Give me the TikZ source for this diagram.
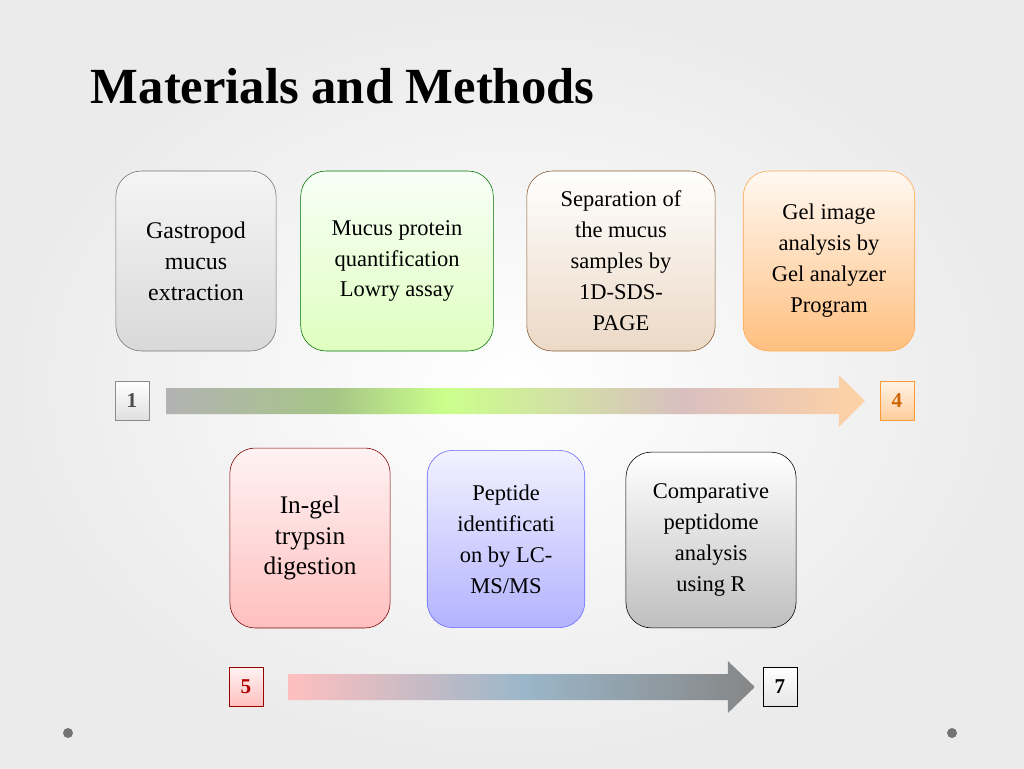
\documentclass[tikz,border=0pt]{standalone}
\usepackage{fontspec}
\setmainfont{Liberation Serif}
\usetikzlibrary{calc}
\pgfdeclarehorizontalshading{stepsone}{100bp}{
  color(0bp)=(gray!60);color(25bp)=(gray!60);color(37bp)=(green!50!yellow!35!gray!70);
  color(45bp)=(green!45!yellow!45);color(62bp)=(red!25!gray!40);color(75bp)=(orange!35);color(100bp)=(orange!35)}
\pgfdeclarehorizontalshading{stepstwo}{100bp}{
  color(0bp)=(red!25);color(25bp)=(red!25);color(50bp)=(blue!40!cyan!30!gray!60);
  color(75bp)=(gray!95);color(100bp)=(gray!95)}
\begin{document}
\begin{tikzpicture}[x=0.25mm,y=-0.25mm]
  \tikzstyle{stage}=[draw=black!55,rounded corners=18pt,align=center,
                     font=\fontsize{16}{22}\selectfont,inner sep=2pt]
  \tikzstyle{num}=[draw=black!45,minimum width=24pt,minimum height=28pt,
                   font=\bfseries\fontsize{15}{18}\selectfont,inner sep=0pt]
  % background
  \shade[inner color=white,outer color=black!8] (0,0) rectangle (1024,768);
  \node[anchor=west,font=\bfseries\fontsize{36}{42}\selectfont] (title) at (86,86) {Materials and Methods};
  % upper row
  \node[stage,minimum width=114pt,minimum height=128pt,top color=gray!8,bottom color=gray!30] (s1) at (196,261)
    {\fontsize{17}{23}\selectfont Gastropod\\\fontsize{17}{23}\selectfont mucus\\\fontsize{17}{23}\selectfont extraction};
  \node[stage,minimum width=137pt,minimum height=128pt,draw=green!45!black,top color=green!3,bottom color=green!50!yellow!25] (s2) at (397,261)
    {Mucus protein\\quantification\\Lowry assay};
  \node[stage,minimum width=134pt,minimum height=128pt,draw=brown!70!black,top color=white,bottom color=brown!30] (s3) at (621,261)
    {Separation of\\the mucus\\samples by\\1D-SDS-\\PAGE};
  \node[stage,minimum width=122pt,minimum height=128pt,draw=orange!70,top color=orange!5,bottom color=orange!50] (s4) at (829,261)
    {Gel image\\analysis by\\Gel analyzer\\Program};
  % lower row
  \node[stage,minimum width=114pt,minimum height=128pt,draw=red!50!black,top color=red!5,bottom color=red!25] (s5) at (310,538)
    {\fontsize{18}{24}\selectfont In-gel\\\fontsize{18}{24}\selectfont trypsin\\\fontsize{18}{24}\selectfont digestion};
  \node[stage,minimum width=112pt,minimum height=126pt,draw=blue!60,top color=blue!5,bottom color=blue!30] (s6) at (506,539)
    {Peptide\\identificati\\on by LC-\\MS/MS};
  \node[stage,minimum width=121pt,minimum height=125pt,draw=black,top color=white,bottom color=gray!50] (s7) at (711,540)
    {Comparative\\peptidome\\analysis\\using R};
  % step numbers
  \node[num,top color=white,bottom color=gray!25,text=black!70] (n1) at (132,401) {1};
  \node[num,draw=orange!80,top color=orange!10,bottom color=orange!40,text=orange!80!black] (n4) at (897,401) {4};
  \node[num,draw=red!60!black,top color=red!5,bottom color=red!25,text=red!70!black] (n5) at (246,687) {5};
  \node[num,draw=black,top color=white,bottom color=gray!20] (n7) at (780,687) {7};
  % arrows
  \shade[shading=stepsone] ($(n1.east)+(17,-13)$) -- ($(n4.west)+(-41,-13)$) -- ($(n4.west)+(-41,-26)$)
    -- ($(n4.west)+(-15,0)$) -- ($(n4.west)+(-41,26)$) -- ($(n4.west)+(-41,13)$) -- ($(n1.east)+(17,13)$) -- cycle;
  \shade[shading=stepstwo] ($(n5.east)+(25,-13)$) -- ($(n7.west)+(-35,-13)$) -- ($(n7.west)+(-35,-26)$)
    -- ($(n7.west)+(-8,0)$) -- ($(n7.west)+(-35,26)$) -- ($(n7.west)+(-35,13)$) -- ($(n5.east)+(25,13)$) -- cycle;
  % dots
  \fill[black!55] (68,733) circle (5);
  \fill[black!55] (952,733) circle (5);
\end{tikzpicture}
\end{document}
